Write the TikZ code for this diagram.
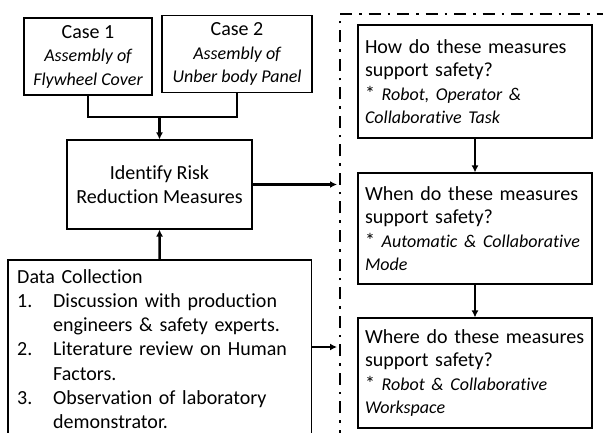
\documentclass[tikz,border=0pt]{standalone}
\usepackage{fontspec}
\setmainfont{Carlito}[Ligatures=NoCommon]
\usepackage{tikz}
\usetikzlibrary{positioning,arrows.meta}
\tikzset{
casenode/.style = {draw, line width=1.1pt, align=center, inner sep=0pt,
  minimum width=#1, minimum height=77pt},
casenode/.default = 128pt,
qnode/.style = {draw, line width=1.1pt, align=left, inner xsep=7pt,
  text width=220pt, minimum height=#1},
qnode/.default = 112pt,
link/.style = {line width=2.4pt},
flow/.style = {line width=2.4pt, -{Latex[length=7pt,width=7pt]}},
frame/.style = {line width=2.6pt, dash pattern=on 12pt off 7pt on 2.5pt off 7pt}
}
\newcommand{\itm}[1]{\makebox[36pt][l]{#1}}
\newcommand{\emtext}[1]{\mbox{\fontsize{18}{23.5}\selectfont\itshape #1}}

\begin{document}
\begin{tikzpicture}[x=1pt, y=-1pt, font=\fontsize{20}{23.5}\selectfont]
  \useasboundingbox (0,0) rectangle (603,433);
  % left column
  \node [casenode] (case1) at (88,56.5) {Case 1\\\emtext{Assembly of}\\\emtext{Flywheel Cover}};
  \node [casenode=150pt] (case2) at (237,54) {Case 2\\\emtext{Assembly of}\\\emtext{Unber body Panel}};
  \node [casenode=185pt, minimum height=89pt] (ident) at (159.5,184.5) {Identify Risk\\Reduction Measures};
  \node [anchor=north west, align=left, inner xsep=9pt, inner ysep=9pt,
    text width=285pt, font=\fontsize{20}{24.3}\selectfont] (data) at (8,260)
    {Data Collection\\
     \itm{1.}Discussion with production\\
     \itm{}engineers \& safety experts.\\
     \itm{2.}Literature review on Human\\
     \itm{}Factors.\\
     \itm{3.}Observation of laboratory\\
     \itm{}demonstrator.};
  \draw [line width=1.1pt] (data.north west) rectangle ([yshift=-40pt]data.south east);
  \coordinate (join) at (159.5,117);
  \draw [link] (case1.south) |- (join) -| (case2.south);
  \draw [flow] (join) -- (ident.north);
  \draw [flow] (data.north) -- (ident.south);
  % right column
  \coordinate (fcorner) at (340,14);
  \draw [frame] (340,470) -- (fcorner) -- (620,14);
  \node [qnode=113pt] (how) at (475,81.5) {How do these measures\\support safety?\\{*}\ \emtext{Robot, Operator \&}\\\emtext{Collaborative Task}};
  \node [qnode=111pt] (when) at (475,228.5) {When do these measures\\support safety?\\{*}\ \emtext{Automatic \& Collaborative}\\\emtext{Mode}};
  \node [qnode=110pt] (where) at (475,373) {Where do these measures\\support safety?\\{*}\ \emtext{Robot \& Collaborative}\\\emtext{Workspace}};
  \draw [flow] (how) -- (when);
  \draw [flow] (when) -- (where);
  % into the frame
  \coordinate (in1) at (337,184.5);
  \coordinate (in2) at (337,347);
  \draw [flow] (ident.east) -- (in1);
  \draw [flow] (data.east |- in2) -- (in2);
\end{tikzpicture}
\end{document}
